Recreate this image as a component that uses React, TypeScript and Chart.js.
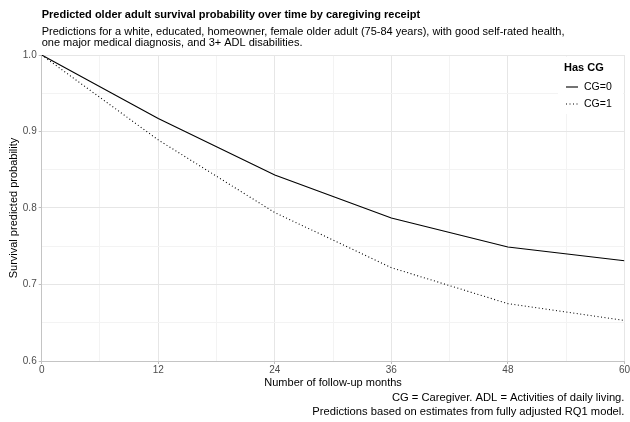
import React, { useEffect, useRef } from "react";
import { Chart, registerables } from "chart.js";

Chart.register(...registerables);

const months = [0, 12, 24, 36, 48, 60];
const cg0 = [1.0, 0.917, 0.843, 0.787, 0.749, 0.731];
const cg1 = [1.0, 0.889, 0.794, 0.722, 0.675, 0.653];
const seriesLabels = ["CG=0", "CG=1"];

const titleText = "Predicted older adult survival probability over time by caregiving receipt";
const subtitleLines = [
  "Predictions for a white, educated, homeowner, female older adult (75-84 years), with good self-rated health,",
  "one major medical diagnosis, and 3+ ADL disabilities.",
];
const captionLines = [
  "CG = Caregiver. ADL = Activities of daily living.",
  "Predictions based on estimates from fully adjusted RQ1 model.",
];
const xTitle = "Number of follow-up months";
const yTitle = "Survival predicted probability";
const legendTitle = "Has CG";

const FONT = "'Liberation Sans', Arial, Helvetica, sans-serif";

const textPlugin = {
  id: "textPlugin",
  afterDraw(chart: any) {
    const ctx = chart.ctx;
    const ca = chart.chartArea;
    ctx.save();
    ctx.fillStyle = "#000";
    ctx.textBaseline = "middle";
    ctx.textAlign = "left";
    ctx.font = `bold 11px ${FONT}`;
    ctx.fillText(titleText, ca.left, 15);
    ctx.font = `11px ${FONT}`;
    ctx.fillText(subtitleLines[0], ca.left, 32);
    ctx.fillText(subtitleLines[1], ca.left, 43);

    // axis titles
    ctx.textAlign = "center";
    ctx.font = `11px ${FONT}`;
    ctx.fillText(xTitle, (ca.left + ca.right) / 2, 383);
    ctx.save();
    ctx.translate(14, (ca.top + ca.bottom) / 2);
    ctx.rotate(-Math.PI / 2);
    ctx.fillText(yTitle, 0, 0);
    ctx.restore();

    // caption
    ctx.textAlign = "right";
    ctx.font = `11.2px ${FONT}`;
    ctx.fillText(captionLines[0], ca.right, 398);
    ctx.fillText(captionLines[1], ca.right, 412);

    // legend
    ctx.fillStyle = "#fff";
    ctx.fillRect(558, 57, 65, 57);
    ctx.fillStyle = "#000";
    ctx.textAlign = "left";
    ctx.font = `bold 11px ${FONT}`;
    ctx.fillText(legendTitle, 564, 68);
    ctx.font = `10.5px ${FONT}`;
    const ys = [87, 104];
    ys.forEach((yy, i) => {
      ctx.beginPath();
      ctx.strokeStyle = "#000";
      ctx.lineWidth = 1.1;
      ctx.setLineDash(i === 0 ? [] : [1, 2.5]);
      ctx.moveTo(566, yy);
      ctx.lineTo(578, yy);
      ctx.stroke();
      ctx.setLineDash([]);
      ctx.fillText(seriesLabels[i], 584, yy);
    });
    ctx.restore();
  },
};

export default function App() {
  const ref = useRef<HTMLCanvasElement>(null);
  useEffect(() => {
    if (!ref.current) return;
    const chart = new Chart(ref.current, {
      type: "line",
      data: {
        datasets: [
          {
            label: seriesLabels[0],
            data: months.map((m, i) => ({ x: m, y: cg0[i] })),
            borderColor: "#000",
            borderWidth: 1.1,
            pointRadius: 0,
            tension: 0,
          },
          {
            label: seriesLabels[1],
            data: months.map((m, i) => ({ x: m, y: cg1[i] })),
            borderColor: "#000",
            borderWidth: 1.1,
            borderDash: [1, 2.5],
            pointRadius: 0,
            tension: 0,
          },
        ],
      },
      options: {
        responsive: false,
        animation: false,
        layout: { padding: { top: 55, right: 5, left: 0, bottom: 0 } },
        plugins: {
          legend: { display: false },
          title: { display: false },
          tooltip: { enabled: false },
        },
        scales: {
          x: {
            type: "linear",
            min: 0,
            max: 60,
            afterFit: (s: any) => {
              s.height = 61;
            },
            ticks: {
              stepSize: 6,
              autoSkip: false,
              maxRotation: 0,
              color: "#4d4d4d",
              font: { size: 10, family: FONT },
              padding: 0,
              callback: (v: any) => (Math.round(v) % 12 === 0 ? String(v) : ""),
            },
            grid: {
              color: (c: any) => (Math.round(c.tick.value) % 12 === 0 ? "#e6e6e6" : "#f3f3f3"),
              tickColor: (c: any) => (Math.round(c.tick.value) % 12 === 0 ? "#bdbdbd" : "rgba(0,0,0,0)"),
              tickLength: 3,
              lineWidth: 1,
            },
            border: { color: "#c4c4c4" },
          },
          y: {
            min: 0.6,
            max: 1.0,
            afterFit: (s: any) => {
              s.width = 41.7;
            },
            ticks: {
              stepSize: 0.05,
              autoSkip: false,
              color: "#4d4d4d",
              font: { size: 10, family: FONT },
              padding: 2,
              callback: (v: any) => {
                const t = v * 10;
                return Math.abs(t - Math.round(t)) < 1e-6 ? Number(v).toFixed(1) : "";
              },
            },
            grid: {
              color: (c: any) => {
                const t = c.tick.value * 10;
                return Math.abs(t - Math.round(t)) < 1e-6 ? "#e6e6e6" : "#f3f3f3";
              },
              tickColor: (c: any) => {
                const t = c.tick.value * 10;
                return Math.abs(t - Math.round(t)) < 1e-6 ? "#bdbdbd" : "rgba(0,0,0,0)";
              },
              tickLength: 3,
              lineWidth: 1,
            },
            border: { color: "#c4c4c4" },
          },
        },
      },
      plugins: [textPlugin],
    });
    return () => chart.destroy();
  }, []);
  return (
    <div style={{ position: "absolute", left: 0, top: 0, width: 630, height: 422, background: "#fff" }}>
      <canvas ref={ref} width={630} height={422} style={{ display: "block" }} />
    </div>
  );
}
